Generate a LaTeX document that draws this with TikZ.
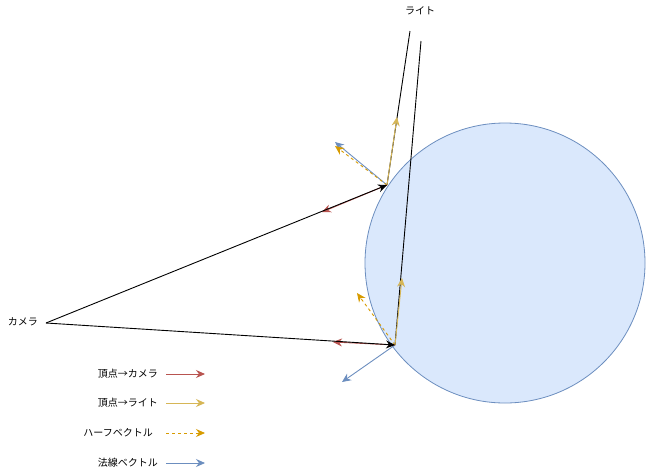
\documentclass[tikz,border=0pt]{standalone}
\usepackage{fontspec}
\setmainfont{Noto Sans CJK JP}
\usetikzlibrary{arrows.meta}
\definecolor{cred}{HTML}{B85450}
\definecolor{cyel}{HTML}{D6B656}
\definecolor{corg}{HTML}{D79B00}
\definecolor{cblu}{HTML}{6C8EBF}
\definecolor{cfill}{HTML}{DAE8FC}
\tikzset{
  tip/.style={-{Stealth[length=9pt,width=8pt,inset=3pt]}},
  lbl/.style={font=\fontsize{10}{12}\selectfont, inner sep=0pt},
  redarr/.style={tip, draw=cred, line width=0.9pt},
  yelarr/.style={tip, draw=cyel, line width=0.9pt},
  orgarr/.style={tip, draw=corg, line width=0.9pt, dash pattern=on 3pt off 3pt},
  bluarr/.style={tip, draw=cblu, line width=0.9pt},
  ray/.style={draw=black, line width=0.9pt},
}
\begin{document}
\begin{tikzpicture}[x=1pt,y=-1pt]
\useasboundingbox (0,0) rectangle (647,474);
\node[circle, draw=cblu, fill=cfill, minimum size=280pt, inner sep=0pt, line width=0.8pt] (sphere) at (505,263) {};
% points
\coordinate (cam) at (46,323);
\coordinate (v1) at (387,185);
\coordinate (v2) at (395,345);
\coordinate (l1) at (410,31);
\coordinate (l2) at (421,41);
\coordinate (c1) at (322,212);
\coordinate (c2) at (333,342);
\coordinate (y1) at (397,117);
\coordinate (y2) at (402,278);
\coordinate (h1) at (335,146);
\coordinate (h2) at (357,293);
\coordinate (n1) at (335,142);
\coordinate (n2) at (342,382);
% labels
\node[lbl, anchor=east] (camlbl) at (38,322) {カメラ};
\node[lbl] (litlbl) at (420,11) {ライト};
% light rays
\draw[ray] (l1) -- (v1);
\draw[ray] (l2) -- (v2);
% vectors at v1
\draw[bluarr] (v1) -- (n1);
\draw[orgarr] (v1) -- (h1);
\draw[yelarr] (v1) -- (y1);
\draw[redarr] (v1) -- (c1);
% vectors at v2
\draw[bluarr] (v2) -- (n2);
\draw[orgarr] (v2) -- (h2);
\draw[yelarr] (v2) -- (y2);
\draw[redarr] (v2) -- (c2);
% camera rays
\draw[ray, tip] (cam) -- (v1);
\draw[ray, tip] (cam) -- (v2);
% legend
\node[lbl, anchor=east] (lg1) at (158,374) {頂点→カメラ};
\node[lbl, anchor=east] (lg2) at (158,403) {頂点→ライト};
\node[lbl, anchor=east] (lg3) at (153,433) {ハーフベクトル};
\node[lbl, anchor=east] (lg4) at (158,463) {法線ベクトル};
\coordinate (a1s) at (166,374); \coordinate (a1e) at (205,374);
\coordinate (a2s) at (166,403); \coordinate (a2e) at (205,403);
\coordinate (a3s) at (166,433); \coordinate (a3e) at (205,433);
\coordinate (a4s) at (166,463); \coordinate (a4e) at (205,463);
\draw[redarr] (a1s) -- (a1e);
\draw[yelarr] (a2s) -- (a2e);
\draw[orgarr] (a3s) -- (a3e);
\draw[bluarr] (a4s) -- (a4e);
\end{tikzpicture}
\end{document}
